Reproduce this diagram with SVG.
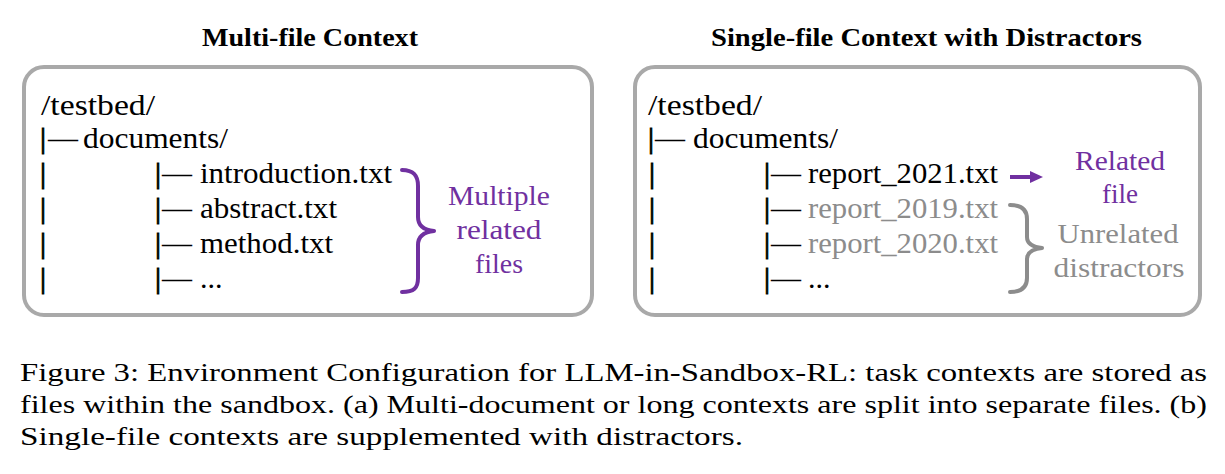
<svg xmlns="http://www.w3.org/2000/svg" width="1225" height="474" viewBox="0 0 1225 474">
<style>
text{font-family:"Liberation Serif","Times New Roman",serif;}
.t{font-size:30px;fill:#000;}
.b{font-size:30px;fill:#000;stroke:#000;stroke-width:0.9;}
.g{fill:#8c8c8c;}
.p{font-size:28px;fill:#7030a0;text-anchor:middle;}
.pg{font-size:28px;fill:#8c8c8c;text-anchor:middle;}
.h{font-size:26px;font-weight:bold;fill:#000;}
.c{font-size:26px;fill:#000;}
.box{fill:#fff;stroke:#a9a9a9;stroke-width:4;}
.brace{fill:none;stroke-width:4;stroke-linecap:round;stroke-linejoin:round;}
</style>
<rect width="1225" height="474" fill="#fff"/>
<g id="title-left"><text class="h" x="202" y="46" textLength="216" lengthAdjust="spacingAndGlyphs">Multi-file Context</text></g>
<g id="title-right"><text class="h" x="711" y="46" textLength="431" lengthAdjust="spacingAndGlyphs">Single-file Context with Distractors</text></g>

<g id="box-left">
<rect class="box" x="24" y="67" width="568" height="248" rx="20"/>
<text class="t" x="41" y="115" textLength="114" lengthAdjust="spacingAndGlyphs">/testbed/</text>
<text class="b" x="40" y="148">|</text><text class="t" x="48" y="148">—</text>
<text class="t" x="83" y="148" textLength="145" lengthAdjust="spacingAndGlyphs">documents/</text>
<text class="b" x="40" y="183">|</text><text class="b" x="155" y="183">|</text><text class="t" x="162" y="183">—</text>
<text class="t" x="200" y="183" textLength="192" lengthAdjust="spacingAndGlyphs">introduction.txt</text>
<text class="b" x="40" y="218">|</text><text class="b" x="155" y="218">|</text><text class="t" x="162" y="218">—</text>
<text class="t" x="200" y="218" textLength="137" lengthAdjust="spacingAndGlyphs">abstract.txt</text>
<text class="b" x="40" y="253">|</text><text class="b" x="155" y="253">|</text><text class="t" x="162" y="253">—</text>
<text class="t" x="200" y="253" textLength="133" lengthAdjust="spacingAndGlyphs">method.txt</text>
<text class="b" x="40" y="288">|</text><text class="b" x="155" y="288">|</text><text class="t" x="162" y="288">—</text>
<text class="t" x="200" y="288">...</text>
<path class="brace" stroke="#7030a0" d="M402,170 C414,170 418,176 418,186 L418,217 C418,226 424,230 434,231 C424,232 418,236 418,245 L418,278 C418,288 414,292 402,292"/>
<text class="p" x="499" y="205" textLength="102" lengthAdjust="spacingAndGlyphs">Multiple</text>
<text class="p" x="499" y="239" textLength="85" lengthAdjust="spacingAndGlyphs">related</text>
<text class="p" x="499" y="273" textLength="48" lengthAdjust="spacingAndGlyphs">files</text>
</g>

<g id="box-right">
<rect class="box" x="635" y="67" width="565" height="248" rx="20"/>
<text class="t" x="648" y="115" textLength="114" lengthAdjust="spacingAndGlyphs">/testbed/</text>
<text class="b" x="648" y="148">|</text><text class="t" x="655" y="148">—</text>
<text class="t" x="693" y="148" textLength="145" lengthAdjust="spacingAndGlyphs">documents/</text>
<text class="b" x="649" y="183">|</text><text class="b" x="764" y="183">|</text><text class="t" x="771" y="183">—</text>
<text class="t" x="808" y="183" textLength="190" lengthAdjust="spacingAndGlyphs">report_2021.txt</text>
<text class="b" x="649" y="218">|</text><text class="b" x="764" y="218">|</text><text class="t" x="771" y="218">—</text>
<text class="t g" x="808" y="218" textLength="190" lengthAdjust="spacingAndGlyphs">report_2019.txt</text>
<text class="b" x="649" y="253">|</text><text class="b" x="764" y="253">|</text><text class="t" x="771" y="253">—</text>
<text class="t g" x="808" y="253" textLength="190" lengthAdjust="spacingAndGlyphs">report_2020.txt</text>
<text class="b" x="649" y="288">|</text><text class="b" x="764" y="288">|</text><text class="t" x="771" y="288">—</text>
<text class="t" x="808" y="288">...</text>
<path class="brace" stroke="#8c8c8c" d="M1010,205 C1022,205 1027,210 1027,219 L1027,237 C1027,244 1033,247 1042,248 C1033,249 1027,252 1027,259 L1027,278 C1027,287 1022,292 1010,292"/>
<text class="p" x="1120" y="170" textLength="90" lengthAdjust="spacingAndGlyphs">Related</text>
<text class="p" x="1120" y="203" textLength="36" lengthAdjust="spacingAndGlyphs">file</text>
<text class="pg" x="1118" y="243" textLength="121" lengthAdjust="spacingAndGlyphs">Unrelated</text>
<text class="pg" x="1119" y="277" textLength="131" lengthAdjust="spacingAndGlyphs">distractors</text>
</g>

<g id="connectors">
<line x1="1010" y1="177" x2="1033" y2="177" stroke="#7030a0" stroke-width="4"/>
<polygon points="1030,171 1043,177 1030,183" fill="#7030a0"/>
</g>

<g id="caption">
<text class="c" x="20" y="381" textLength="1187" lengthAdjust="spacingAndGlyphs">Figure 3: Environment Configuration for LLM-in-Sandbox-RL: task contexts are stored as</text>
<text class="c" x="20" y="413" textLength="1187" lengthAdjust="spacingAndGlyphs">files within the sandbox. (a) Multi-document or long contexts are split into separate files. (b)</text>
<text class="c" x="20" y="445" textLength="723" lengthAdjust="spacingAndGlyphs">Single-file contexts are supplemented with distractors.</text>
</g>
</svg>
